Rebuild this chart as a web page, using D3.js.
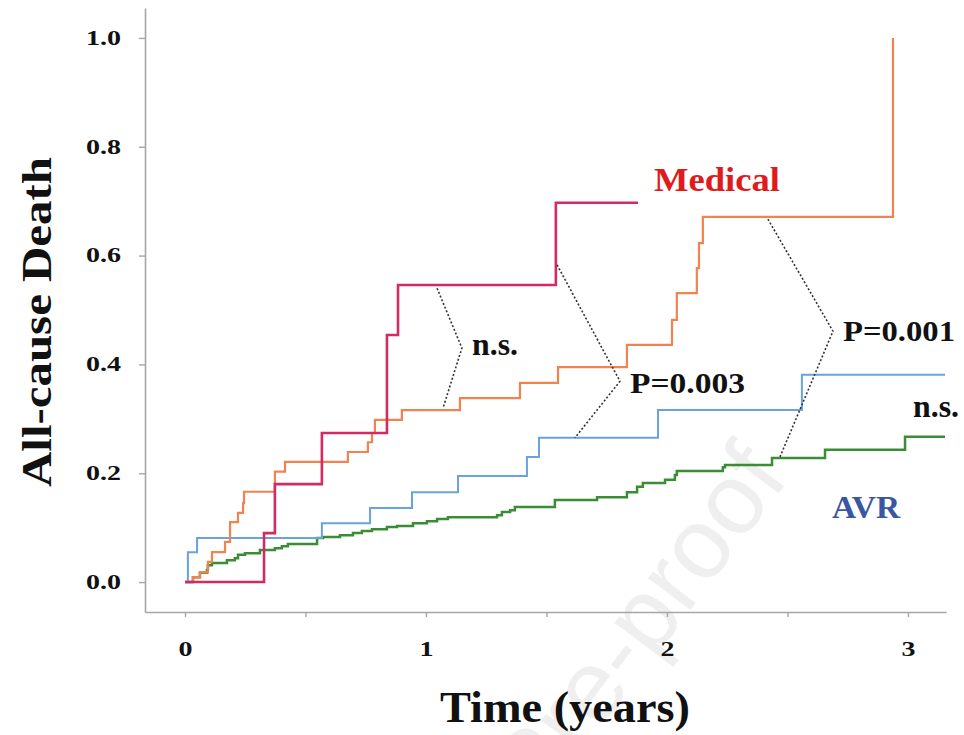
<!DOCTYPE html>
<html>
<head>
<meta charset="utf-8">
<script src="https://cdn.jsdelivr.net/npm/d3@7"></script>
<style>
  html, body { margin: 0; padding: 0; background: #ffffff; }
  svg { display: block; }
</style>
</head>
<body>
<svg id="chart" width="964" height="735"></svg>
<script>
// ---------------- data ----------------
// Time axis (years) and cumulative all-cause death
const xTickValues = [0, 0.5, 1, 1.5, 2, 2.5, 3];
const xTickLabels = ["0", "", "1", "", "2", "", "3"];
const yTickValues = [0, 0.2, 0.4, 0.6, 0.8, 1.0];
const yTickLabels = ["0.0", "0.2", "0.4", "0.6", "0.8", "1.0"];

// Red curve (Medical)
const redTime = [0, 0.328, 0.373, 0.568, 0.838, 0.884, 1.539, 1.88];
const redRisk = [0, 0.090, 0.180, 0.274, 0.454, 0.546, 0.697, 0.697];

// Orange curve
const orangeTime = [0, 0.033, 0.062, 0.095, 0.112, 0.166, 0.187, 0.220, 0.241, 0.245,
  0.373, 0.415, 0.676, 0.759, 0.776, 0.788, 0.900, 1.141, 1.390, 1.548, 1.834,
  2.021, 2.041, 2.124, 2.133, 2.149, 2.938];
const orangeRisk = [0, 0.009, 0.018, 0.037, 0.055, 0.074, 0.110, 0.127, 0.145, 0.166,
  0.203, 0.221, 0.239, 0.257, 0.274, 0.298, 0.316, 0.338, 0.366, 0.395, 0.436,
  0.482, 0.531, 0.577, 0.623, 0.671, 1.0];

// Blue curve
const blueTime = [0, 0.012, 0.050, 0.568, 0.768, 0.942, 1.133, 1.419, 1.469, 1.963, 2.560, 3.154];
const blueRisk = [0, 0.055, 0.081, 0.108, 0.136, 0.165, 0.195, 0.230, 0.265, 0.316, 0.381, 0.381];

// Green curve (AVR)
const greenTime = [0, 0.033, 0.062, 0.091, 0.095, 0.112, 0.174, 0.207, 0.220, 0.249, 0.311,
  0.373, 0.402, 0.427, 0.548, 0.573, 0.643, 0.697, 0.734, 0.776, 0.838, 0.880, 0.946,
  1.004, 1.046, 1.091, 1.295, 1.315, 1.349, 1.369, 1.535, 1.710, 1.834, 1.876, 1.900,
  1.992, 2.033, 2.041, 2.232, 2.241, 2.436, 2.656, 2.988, 3.154];
const greenRisk = [0, 0.009, 0.017, 0.022, 0.031, 0.035, 0.040, 0.044, 0.050, 0.053, 0.059,
  0.062, 0.066, 0.070, 0.081, 0.083, 0.086, 0.090, 0.094, 0.097, 0.101, 0.103, 0.108,
  0.112, 0.116, 0.119, 0.123, 0.129, 0.132, 0.138, 0.151, 0.156, 0.165, 0.175, 0.182,
  0.188, 0.197, 0.204, 0.211, 0.215, 0.228, 0.243, 0.267, 0.267];

// Comparison brackets (time, risk) and their labels
const bracketLabels = ["n.s.", "P=0.003", "P=0.001"];
const bracketTimes = [[1.046, 1.149, 1.071], [1.544, 1.805, 1.618], [2.419, 2.689, 2.469]];
const bracketRisks = [[0.540, 0.430, 0.320], [0.583, 0.369, 0.265], [0.667, 0.461, 0.230]];

// ---------------- drawing ----------------
const svg = d3.select("#chart");
const serif = "'Liberation Serif', 'Times New Roman', serif";

const x = d3.scaleLinear().domain([-0.166, 3.158]).range([145, 946]);
const y = d3.scaleLinear().domain([-0.055, 1.055]).range([612, 8]);

// watermark
svg.append("text")
  .attr("transform", "translate(790,478) rotate(-53)")
  .attr("text-anchor", "end")
  .attr("font-family", "'Liberation Sans', Arial, sans-serif")
  .attr("font-size", 100)
  .attr("fill", "#efefef")
  .text("Journal Pre-proof");

// axes
const yAxis = d3.axisLeft(y).tickValues(yTickValues)
  .tickFormat((d, i) => yTickLabels[i]).tickSizeInner(6).tickSizeOuter(0).tickPadding(18);
const gy = svg.append("g").attr("transform", "translate(145,0)").call(yAxis);
const xAxis = d3.axisBottom(x).tickValues(xTickValues)
  .tickFormat((d, i) => xTickLabels[i]).tickSizeInner(5).tickSizeOuter(0).tickPadding(25);
const gx = svg.append("g").attr("transform", "translate(0,612)").call(xAxis);

[gx, gy].forEach(g => {
  g.select(".domain").attr("stroke", "#a6a6a6").attr("stroke-width", 1.6);
  g.selectAll(".tick line").attr("stroke", "#a6a6a6").attr("stroke-width", 1.4);
  g.selectAll(".tick text")
    .attr("font-family", serif).attr("font-weight", "bold").attr("font-size", 20)
    .attr("fill", "#111");
});
gy.selectAll(".tick text").attr("textLength", 35).attr("lengthAdjust", "spacingAndGlyphs");
gx.selectAll(".tick text").filter(function () { return this.textContent !== ""; })
  .attr("textLength", 14).attr("lengthAdjust", "spacingAndGlyphs");

// axis titles
svg.append("text")
  .attr("transform", "translate(51,322) rotate(-90)")
  .attr("text-anchor", "middle")
  .attr("font-family", serif).attr("font-weight", "bold").attr("font-size", 43)
  .attr("textLength", 330).attr("lengthAdjust", "spacingAndGlyphs")
  .attr("fill", "#111")
  .text("All-cause Death");
svg.append("text")
  .attr("x", 565).attr("y", 722)
  .attr("text-anchor", "middle")
  .attr("font-family", serif).attr("font-weight", "bold").attr("font-size", 45)
  .attr("textLength", 250).attr("lengthAdjust", "spacingAndGlyphs")
  .attr("fill", "#111")
  .text("Time (years)");

// step curves
const step = d3.line().x(d => x(d[0])).y(d => y(d[1])).curve(d3.curveStepAfter);
const series = [
  { t: greenTime, v: greenRisk, color: "#3a8c35", w: 2.5 },
  { t: blueTime, v: blueRisk, color: "#6aa2e0", w: 2.0 },
  { t: orangeTime, v: orangeRisk, color: "#f08350", w: 2.2 },
  { t: redTime, v: redRisk, color: "#d42a62", w: 2.6 }
];
series.forEach(s => {
  svg.append("path")
    .datum(s.t.map((t, i) => [t, s.v[i]]))
    .attr("d", step)
    .attr("fill", "none")
    .attr("stroke", s.color)
    .attr("stroke-width", s.w);
});

// brackets
const poly = d3.line().x(d => x(d[0])).y(d => y(d[1]));
bracketTimes.forEach((ts, k) => {
  svg.append("path")
    .datum(ts.map((t, i) => [t, bracketRisks[k][i]]))
    .attr("d", poly)
    .attr("fill", "none")
    .attr("stroke", "#333")
    .attr("stroke-width", 1.6)
    .attr("stroke-dasharray", "2,2");
});

// labels
const labelSpec = [
  { text: bracketLabels[0], x: 472, y: 355, size: 31, len: 46, color: "#111" },
  { text: bracketLabels[1], x: 630, y: 393, size: 30, len: 115, color: "#111" },
  { text: bracketLabels[2], x: 843, y: 341, size: 30, len: 112, color: "#111" },
  { text: "n.s.", x: 913, y: 417, size: 31, len: 46, color: "#111" },
  { text: "Medical", x: 654, y: 191, size: 33, len: 126, color: "#e01b1b" },
  { text: "AVR", x: 832, y: 518, size: 32, len: 68, color: "#3a56a3" }
];
labelSpec.forEach(l => {
  svg.append("text")
    .attr("x", l.x).attr("y", l.y)
    .attr("font-family", serif).attr("font-weight", "bold").attr("font-size", l.size)
    .attr("textLength", l.len).attr("lengthAdjust", "spacingAndGlyphs")
    .attr("fill", l.color)
    .text(l.text);
});
</script>
</body>
</html>
